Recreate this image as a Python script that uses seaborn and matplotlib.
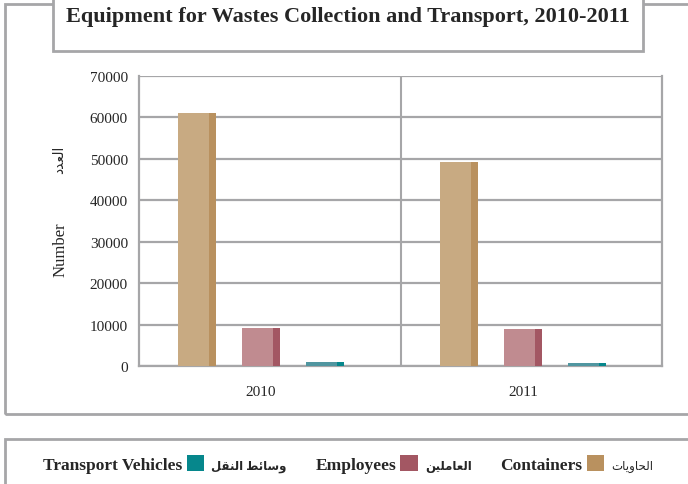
import matplotlib
matplotlib.use('Agg')
import matplotlib.pyplot as plt
import seaborn as sns
import pandas as pd
from matplotlib.patches import Patch, Rectangle

# data
years = ['2010', '2011']
series_en = ['Containers', 'Employees', 'Transport Vehicles']
series_ar = ['الحاويات', 'العاملين', 'وسائط النقل']
containers = [61100, 49300]
employees = [9200, 8900]
vehicles = [1000, 700]
yticks = [0, 10000, 20000, 30000, 40000, 50000, 60000, 70000]

front_colors = ['#C8AA82', '#C08B90', '#5096A0']
side_colors = ['#B9915F', '#A35763', '#06878C']

# matplotlib does no arabic shaping, so pick the presentation forms by hand
# (isolated, final, initial, medial)
FORMS = {
    'ا': (0xFE8D, 0xFE8E, None, None),
    'د': (0xFEA9, 0xFEAA, None, None),
    'و': (0xFEED, 0xFEEE, None, None),
    'ل': (0xFEDD, 0xFEDE, 0xFEDF, 0xFEE0),
    'ع': (0xFEC9, 0xFECA, 0xFECB, 0xFECC),
    'ح': (0xFEA1, 0xFEA2, 0xFEA3, 0xFEA4),
    'ي': (0xFEF1, 0xFEF2, 0xFEF3, 0xFEF4),
    'ت': (0xFE95, 0xFE96, 0xFE97, 0xFE98),
    'م': (0xFEE1, 0xFEE2, 0xFEE3, 0xFEE4),
    'ن': (0xFEE5, 0xFEE6, 0xFEE7, 0xFEE8),
    'س': (0xFEB1, 0xFEB2, 0xFEB3, 0xFEB4),
    'ئ': (0xFE89, 0xFE8A, 0xFE8B, 0xFE8C),
    'ط': (0xFEC1, 0xFEC2, 0xFEC3, 0xFEC4),
    'ق': (0xFED5, 0xFED6, 0xFED7, 0xFED8),
}


def shape(text):
    out = []
    for i, ch in enumerate(text):
        f = FORMS.get(ch)
        if f is None:
            out.append(ch)
            continue
        prev = text[i - 1] if i > 0 else ''
        nxt = text[i + 1] if i + 1 < len(text) else ''
        jp = prev in FORMS and FORMS[prev][2] is not None
        jn = nxt in FORMS and f[2] is not None
        if jp and jn:
            code = f[3]
        elif jp:
            code = f[1]
        elif jn:
            code = f[2]
        else:
            code = f[0]
        out.append(chr(code))
    return ''.join(reversed(out))


sns.set_style('white')
plt.rcParams['font.family'] = ['Liberation Serif', 'DejaVu Sans']

df = pd.DataFrame({
    'year': years * 3,
    'series': [s for s in series_en for _ in years],
    'value': containers + employees + vehicles,
})

fig = plt.figure(figsize=(6.88, 4.85), dpi=100)
ax = fig.add_axes([139 / 688, 1 - 367 / 485, 523 / 688, 290 / 485])

# frames of the chart area, title box and legend box
gray = '#A6A6A8'
fig.add_artist(Rectangle((5 / 688, 1 - 415 / 485), 1.0, 410 / 485,
                         transform=fig.transFigure, facecolor='none',
                         edgecolor=gray, lw=2, zorder=0))
fig.add_artist(Rectangle((53 / 688, 1 - 52 / 485), 590 / 688, 0.2,
                         transform=fig.transFigure, facecolor='white',
                         edgecolor=gray, lw=2, zorder=1))
fig.add_artist(Rectangle((5 / 688, -0.1), 1.0, 0.1 + 1 - 440 / 485,
                         transform=fig.transFigure, facecolor='none',
                         edgecolor=gray, lw=2, zorder=0))

# side (dark) part of each bar, then lighter front face on top
sns.barplot(data=df, x='year', y='value', hue='series', hue_order=series_en,
            palette=side_colors, saturation=1, width=0.733, gap=0.406,
            legend=False, linewidth=0, ax=ax, zorder=3)
n = len(ax.patches)
sns.barplot(data=df, x='year', y='value', hue='series', hue_order=series_en,
            palette=front_colors, saturation=1, width=0.733, gap=0.406,
            legend=False, linewidth=0, ax=ax, zorder=4)
for p in ax.patches[n:]:
    p.set_width(p.get_width() * 0.82)

ax.set_xlim(-0.466, 1.531)
ax.set_ylim(0, 70000)
ax.set_yticks(yticks)
ax.set_yticklabels([str(t) for t in yticks], fontsize=11)
ax.tick_params(axis='y', length=0, pad=8)
ax.tick_params(axis='x', length=0, pad=14, labelsize=11)
ax.yaxis.grid(True, color=gray, lw=1.6)
ax.axvline(0.534, color=gray, lw=1.5, zorder=1)
ax.set_axisbelow(True)
for s in ['left', 'bottom', 'right']:
    ax.spines[s].set_color(gray)
    ax.spines[s].set_linewidth(1.6)
ax.spines['top'].set_visible(False)
ax.set_xlabel('')
ax.set_ylabel('')

ax.text(-0.151, 0.403, 'Number', rotation=90, ha='center', va='center',
        fontsize=12, transform=ax.transAxes)
ax.text(-0.151, 0.714, shape('العدد'), rotation=90, ha='center', va='center',
        fontsize=10, transform=ax.transAxes)

fig.text(348 / 688, 1 - 17 / 485,
         'Equipment for Wastes Collection and Transport, 2010-2011',
         ha='center', va='center', fontsize=16, fontweight='bold', zorder=2)

# bilingual legend, right to left
blank = Patch(facecolor='none', edgecolor='none')
handles, labels = [], []
for en, ar, c in reversed(list(zip(series_en, series_ar, side_colors))):
    handles += [blank, Patch(facecolor=c, edgecolor='none')]
    labels += [en, shape(ar)]
leg = fig.legend(handles, labels, ncol=6, loc='center',
                 bbox_to_anchor=(336 / 688, 1 - 465 / 485), frameon=False,
                 handlelength=1.0, handleheight=1.0, handletextpad=0.4,
                 columnspacing=0.25, prop={'size': 12.5, 'weight': 'bold'})
for i, t in enumerate(leg.get_texts()):
    if i % 2 == 1:
        t.set_fontsize(8.5)
        if i == 5:
            t.set_fontweight('normal')

fig.savefig('out.png', dpi=100)
